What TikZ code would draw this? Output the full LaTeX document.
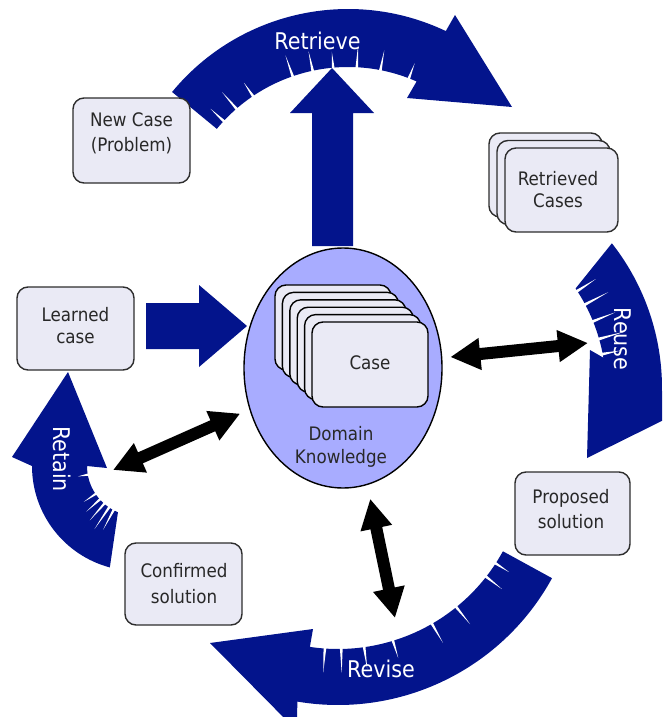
\documentclass[tikz,border=0pt]{standalone}
\usepackage{fontspec}
\setmainfont{DejaVu Sans}[FakeStretch=0.9]
\usetikzlibrary{shapes.geometric,arrows.meta,calc}
\definecolor{arrowblue}{RGB}{3,20,140}
\definecolor{boxfill}{RGB}{234,234,245}
\definecolor{ellfill}{RGB}{168,172,255}
\definecolor{boxline}{RGB}{45,45,45}
\definecolor{textgray}{RGB}{40,40,40}
% white streaks along the inner rim of a curved arrow:
% #1 centre, #2 inner radius, #3 half angle of the streak foot, #4 list angle/length
\newcommand\rimstreaks[4]{%
  \foreach \ang/\len in {#4}{%
    \fill[white] ($(#1)+({\ang-#3}:{#2-2})$) -- ($(#1)+({\ang+#3}:{#2-2})$)
      -- ($(#1)+(\ang:{#2+\len})$) -- cycle;}}
\begin{document}
\begin{tikzpicture}[x=1pt,y=-1pt,
  card/.style={draw=boxline, line width=1.4pt, fill=boxfill, rounded corners=11pt, inner sep=0pt},
  txt/.style={font=\fontsize{18.6}{22}\selectfont, text=textgray, anchor=base, inner sep=0pt},
  armtxt/.style={font=\fontsize{23}{26}\selectfont, text=white, inner sep=0pt},
  link/.style={line width=12pt, arrows={Triangle[length=30pt,width=30pt]-Triangle[length=30pt,width=30pt]}},
]
\useasboundingbox (0,0) rectangle (662,717);
\clip (0,0) rectangle (662,717);

% ---- the four curved cycle arrows ----
\coordinate (cRt) at (348,237);
\coordinate (cRu) at (428,388);
\coordinate (cRv) at (338,461);
\coordinate (cRa) at (137,466);

% Retrieve (top)
\fill[arrowblue] ($(cRt)+(-140.5:228)$) arc[start angle=-140.5,end angle=-64.6,radius=228]
  -- (455,15) -- (512,107) -- (407,98)
  -- ($(cRt)+(-66.2:170)$) arc[start angle=-66.2,end angle=-140.5,radius=170] -- cycle;
% Reuse (right)
\fill[arrowblue] ($(cRu)+(-38.2:234)$) arc[start angle=-38.2,end angle=0.7,radius=234]
  -- (690,407) -- (587,458) -- (590,350)
  -- ($(cRu)+(-9.8:178)$) arc[start angle=-9.8,end angle=-34,radius=178] -- cycle;
% Revise (bottom)
\fill[arrowblue] ($(cRv)+(28.7:244)$) arc[start angle=28.7,end angle=99.6,radius=244]
  -- (297,731) -- (210,643) -- (313,629)
  -- ($(cRv)+(98.6:188)$) arc[start angle=98.6,end angle=28.7,radius=188] -- cycle;
% Retain (left)
\fill[arrowblue] ($(cRa)+(105:105)$) arc[start angle=105,end angle=180,radius=105]
  -- (12,457) -- (68,372) -- (107,468)
  -- ($(cRa)+(180:50)$) arc[start angle=180,end angle=112.4,radius=50] -- cycle;

\rimstreaks{cRt}{170}{0.5}{-137/18,-131/22,-124/16,-109/22,-102/20,-95/16,-87/22,-79/20,-69/16}
\rimstreaks{cRu}{178}{0.5}{-33/22,-28/26,-22/24,-16/26,-11/18}
\rimstreaks{cRv}{188}{0.45}{94/24,89/24,82/22,73/18,60/22,51/22,38/20,33/16}
\rimstreaks{cRa}{50}{1.6}{118/22,124/26,131/22,138/18,146/14,170/10}

\node[armtxt, anchor=base] (lblRetrieve) at (317.5,49) {Retrieve};
\node[armtxt, rotate=-90] (lblReuse) at (622.5,339) {Reuse};
\node[armtxt, anchor=base] (lblRevise) at (381,677) {Revise};
\node[armtxt, rotate=-90] (lblRetain) at (62,459) {Retain};

% ---- straight block arrows ----
\fill[arrowblue] (312,246) -- (312,113) -- (290,113) -- (332,68) -- (374,113) -- (353,113) -- (353,246) -- cycle;
\fill[arrowblue] (146,303) -- (199,303) -- (199,285) -- (247,326) -- (199,367) -- (199,349) -- (146,349) -- cycle;

% ---- boxes ----
\node[card, minimum width=117pt, minimum height=85pt] (newcase) at (131.5,140.5) {};
\node[txt] (newcaseA) at (131.5,126) {New Case};
\node[txt] (newcaseB) at (131.5,151) {(Problem)};

\node[card, minimum width=117pt, minimum height=83pt] (learned) at (75.5,328.5) {};
\node[txt] (learnedA) at (75.5,321) {Learned};
\node[txt] (learnedB) at (75.5,343) {case};

\node[card, minimum width=115pt, minimum height=83pt] (proposed) at (572.5,513.5) {};
\node[txt] (proposedA) at (571,503) {Proposed};
\node[txt] (proposedB) at (571,528) {solution};

\node[card, minimum width=117pt, minimum height=82pt] (confirmed) at (183.5,584) {};
\node[txt] (confirmedA) at (184,577) {Confirmed};
\node[txt] (confirmedB) at (184,603) {solution};

\node[card, minimum width=113pt, minimum height=84pt] (ret0) at (545.5,175) {};
\node[card, minimum width=113pt, minimum height=84pt] (ret1) at (553.5,182.5) {};
\node[card, minimum width=113pt, minimum height=84pt] (ret2) at (561.5,190) {};
\node[txt] (retA) at (558,185) {Retrieved};
\node[txt] (retB) at (558,207) {Cases};

% ---- domain knowledge with its case base ----
\node[ellipse, draw=black, line width=1.4pt, fill=ellfill, minimum width=198pt, minimum height=240pt, inner sep=0pt] (dk) at (343,368) {};
\foreach \k in {0,...,5}
  \node[card, draw=black, minimum width=116pt, minimum height=85pt] (case\k) at ({370-7.4*(5-\k)},{364.5-7.4*(5-\k)}) {};
\node[txt] (caseT) at (370,369) {Case};
\node[txt] (dkA) at (341,440) {Domain};
\node[txt] (dkB) at (341,463) {Knowledge};

% ---- two-headed links ----
\coordinate (reuseEnd) at (588,343);
\coordinate (retainEnd) at (113,470);
\coordinate (reviseEnd) at (395,618);
\draw[link, shorten <=8pt] (dk) -- (reuseEnd);
\draw[link, shorten <=10pt] (dk) -- (retainEnd);
\draw[link, shorten <=14pt] (dk) -- (reviseEnd);
\end{tikzpicture}
\end{document}
